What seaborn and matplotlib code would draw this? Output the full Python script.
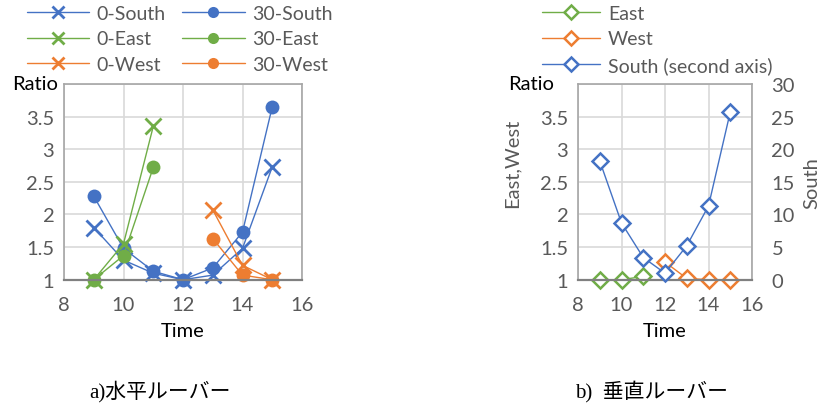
import numpy as np
import pandas as pd
import matplotlib
matplotlib.use("Agg")
import matplotlib.pyplot as plt
import seaborn as sns

# ---- data ----
t_all = [9, 10, 11, 12, 13, 14, 15]
s0_south = [1.8, 1.3, 1.1, 1.0, 1.07, 1.48, 2.73]
s30_south = [2.28, 1.48, 1.13, 1.0, 1.18, 1.73, 3.65]
t_east = [9, 10, 11]
s0_east = [1.0, 1.55, 3.35]
s30_east = [1.0, 1.37, 2.72]
t_west = [13, 14, 15]
s0_west = [2.07, 1.22, 1.0]
s30_west = [1.63, 1.07, 1.0]

v_t_east = [9, 10, 11]
v_east = [1.0, 1.0, 1.05]
v_t_west = [12, 13, 14, 15]
v_west = [1.27, 1.02, 1.0, 1.0]
v_south = [18.2, 8.7, 3.4, 1.0, 5.2, 11.3, 25.7]

x_ticks = [8, 10, 12, 14, 16]
y_ticks = [1, 1.5, 2, 2.5, 3, 3.5]
y_ticklabels = ["1", "1.5", "2", "2.5", "3", "3.5"]
y2_ticks = [0, 5, 10, 15, 20, 25, 30]

BLUE = "#4472C4"
ORANGE = "#ED7D31"
GREEN = "#70AD47"
TXT = "#595959"

sns.set_theme(style="whitegrid")
plt.rcParams["font.family"] = ["Lato", "DejaVu Sans"]

fig = plt.figure(figsize=(8.25, 4.1), dpi=100)
axL = fig.add_axes([64/825, 1-280.7/410, 238/825, 195.7/410])
axR = fig.add_axes([578/825, 1-280.7/410, 174/825, 195.7/410])

FS = 14.5


def style_axes(ax):
    ax.set_xlim(8, 16)
    ax.set_ylim(1, 4)
    ax.set_xticks(x_ticks)
    ax.set_xticklabels([str(v) for v in x_ticks])
    ax.set_yticks(y_ticks + [4])
    ax.set_yticklabels(y_ticklabels + [""])
    ax.grid(True, color="#D9D9D9", linewidth=1.2)
    ax.set_facecolor("white")
    for s in ax.spines.values():
        s.set_color("#A6A6A6")
        s.set_linewidth(1.2)
    ax.spines["bottom"].set_color("#808080")
    ax.spines["bottom"].set_linewidth(1.6)
    ax.tick_params(axis="y", labelsize=FS, colors=TXT, length=0, pad=7)
    ax.tick_params(axis="x", labelsize=FS, colors=TXT, length=0, pad=12)
    ax.set_xlabel("Time", fontsize=FS, color="black", labelpad=6)
    ax.set_ylabel("")


lw = 1.0
ms_x = 11
ms_o = 10

# Left chart
series = [
    (t_all, s0_south, BLUE, "x", "0-South"),
    (t_all, s30_south, BLUE, "o", "30-South"),
    (t_east, s0_east, GREEN, "x", "0-East"),
    (t_east, s30_east, GREEN, "o", "30-East"),
    (t_west, s0_west, ORANGE, "x", "0-West"),
    (t_west, s30_west, ORANGE, "o", "30-West"),
]
for x, y, c, m, lab in series:
    df = pd.DataFrame({"Time": x, "Ratio": y})
    sns.lineplot(data=df, x="Time", y="Ratio", ax=axL, color=c, marker=m,
                 markersize=ms_x if m == "x" else ms_o,
                 markeredgewidth=2 if m == "x" else 0,
                 markeredgecolor=c, markerfacecolor=c,
                 linewidth=lw, label=lab, legend=False, clip_on=False)
style_axes(axL)
hl = axL.get_lines()
order = [0, 2, 4, 1, 3, 5]
labs = [s[4] for s in series]
fig.legend([hl[i] for i in order], [labs[i] for i in order], ncol=2,
           loc="upper left", bbox_to_anchor=(17/825, 1.01), frameon=False,
           fontsize=14, handlelength=3.2, handletextpad=0.4,
           columnspacing=0.85, labelspacing=0.45, labelcolor=TXT,
           borderaxespad=0.1, markerscale=0.8)
fig.text(12/825, 1-84/410, "Ratio", fontsize=FS, color="black", va="center", ha="left")

# Right chart
df_e = pd.DataFrame({"Time": v_t_east, "Ratio": v_east})
df_w = pd.DataFrame({"Time": v_t_west, "Ratio": v_west})
df_s = pd.DataFrame({"Time": t_all, "South": v_south})
kw = dict(marker="D", markersize=8.5, markerfacecolor="white",
          markeredgewidth=1.8, linewidth=lw, legend=False, clip_on=False)
sns.lineplot(data=df_e, x="Time", y="Ratio", ax=axR, color=GREEN,
             markeredgecolor=GREEN, label="East", **kw)
sns.lineplot(data=df_w, x="Time", y="Ratio", ax=axR, color=ORANGE,
             markeredgecolor=ORANGE, label="West", **kw)
style_axes(axR)
axR2 = axR.twinx()
sns.lineplot(data=df_s, x="Time", y="South", ax=axR2, color=BLUE,
             markeredgecolor=BLUE, label="South (second axis)", **kw)
axR2.set_ylim(0, 30)
axR2.set_yticks(y2_ticks)
axR2.set_yticklabels([str(v) for v in y2_ticks])
axR2.grid(False)
for s in axR2.spines.values():
    s.set_visible(False)
axR2.tick_params(axis="y", labelsize=FS, colors=TXT, length=0, pad=14)
axR2.set_ylabel("South", fontsize=FS, color=TXT, labelpad=6)
axR2.set_xlim(8, 16)

axR.set_ylabel("East,West", fontsize=FS, color=TXT)
axR.yaxis.set_label_coords(-0.33, 0.6)

hr = axR.get_lines()[:2] + axR2.get_lines()[:1]
fig.legend(hr, ["East", "West", "South (second axis)"], ncol=1,
           loc="upper left", bbox_to_anchor=(532/825, 1.01), frameon=False,
           fontsize=14, handlelength=3.0, handletextpad=0.4,
           labelspacing=0.45, labelcolor=TXT, borderaxespad=0.1,
           markerscale=0.85)
fig.text(508/825, 1-84/410, "Ratio", fontsize=FS, color="black", va="center", ha="left")

# captions
cap_font = ["Liberation Serif", "Noto Sans CJK JP"]
fig.text(160/825, 1-392/410, "a)水平ルーバー", fontsize=15, family=cap_font,
         ha="center", va="center", color="black")
fig.text(652/825, 1-392/410, "b)  垂直ルーバー", fontsize=15, family=cap_font,
         ha="center", va="center", color="black")

fig.savefig("out.png", dpi=100)
